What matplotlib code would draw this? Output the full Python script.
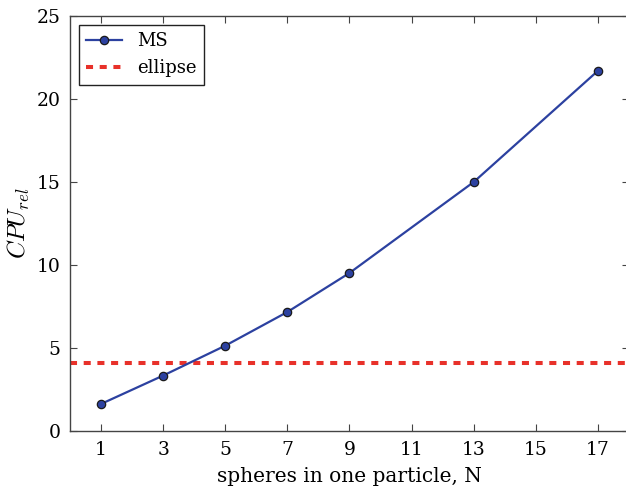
import matplotlib
matplotlib.use("Agg")
import matplotlib.pyplot as plt

plt.rcParams['font.family'] = ['DejaVu Serif']
plt.rcParams['mathtext.fontset'] = 'cm'

# data
n_spheres = [1, 3, 5, 7, 9, 13, 17]
cpu_ms = [1.63, 3.34, 5.14, 7.17, 9.52, 15.0, 21.7]
cpu_ellipse = 4.12
xticks = [1, 3, 5, 7, 9, 11, 13, 15, 17]

fig = plt.figure(figsize=(6.26, 4.91), dpi=100)
ax = fig.add_axes([70 / 626, (491 - 431) / 491, 559 / 626, 415 / 491])

ax.plot(n_spheres, cpu_ms, '-o', color='#2c41a0', lw=1.6,
        markersize=6, markerfacecolor='#2c41a0', markeredgecolor='#1a1a1a',
        markeredgewidth=0.9, label='MS', zorder=3)
ax.axhline(cpu_ellipse, color='#e8312a', ls=(0, (1.75, 1.65)), lw=2.9,
           label='ellipse', zorder=2)

ax.set_xlim(0, 18)
ax.set_ylim(0, 25)
ax.set_xticks(xticks)
ax.set_yticks([0, 5, 10, 15, 20, 25])
ax.tick_params(direction='in', top=True, right=True, labelsize=13.5,
               length=5, color='#444444', pad=7)
for s in ax.spines.values():
    s.set_color('#444444')
    s.set_linewidth(1.0)

ax.set_xlabel('spheres in one particle, N', fontsize=14.5, labelpad=6)
ax.set_ylabel('$CPU_{rel}$', fontsize=17.5, labelpad=3)

leg = ax.legend(loc='upper left', fontsize=13, fancybox=False,
                edgecolor='#222222', framealpha=1, borderpad=0.4,
                handlelength=2.0, borderaxespad=0.5)
leg.get_frame().set_linewidth(1.0)

fig.savefig('out.png', dpi=100)
